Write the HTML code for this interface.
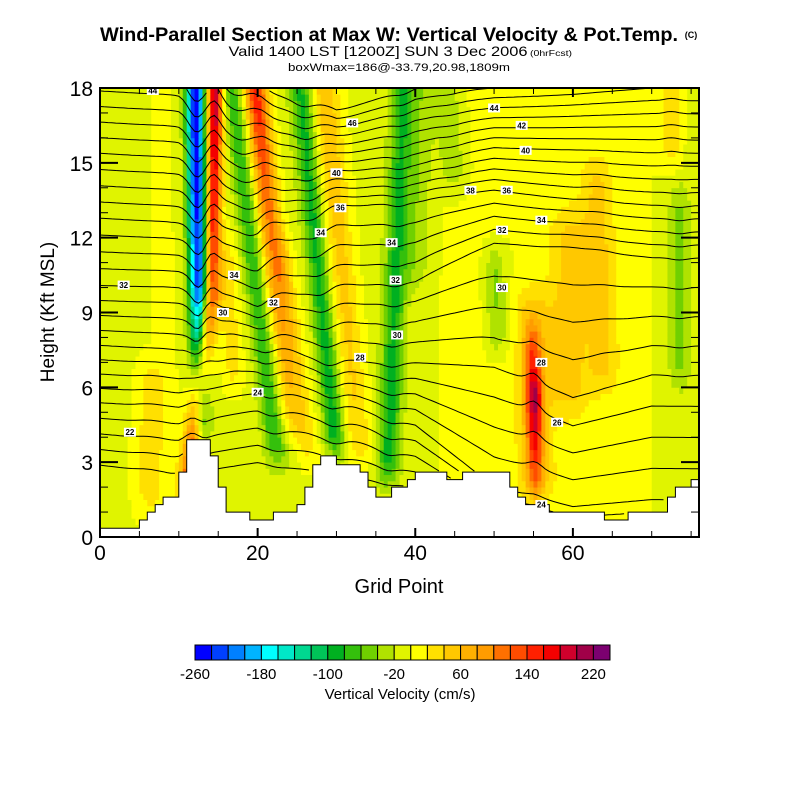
<!DOCTYPE html>
<html><head><meta charset="utf-8">
<style>
html,body{margin:0;padding:0;background:#fff;}
svg{display:block;font-family:"Liberation Sans",Arial,sans-serif;}
</style></head>
<body>
<svg id="chart" width="800" height="800" viewBox="0 0 800 800" xmlns="http://www.w3.org/2000/svg">
  <rect x="0" y="0" width="800" height="800" fill="#fff"/>
  <text x="389" y="41" text-anchor="middle" font-size="19" font-weight="bold" textLength="578" lengthAdjust="spacingAndGlyphs">Wind-Parallel Section at Max W: Vertical Velocity &amp; Pot.Temp.</text>
  <text x="691" y="38" text-anchor="middle" font-size="9" font-weight="bold">(C)</text>
  <text x="378" y="56" text-anchor="middle" font-size="14" textLength="299" lengthAdjust="spacingAndGlyphs">Valid 1400 LST [1200Z] SUN 3 Dec 2006</text>
  <text x="551" y="56" text-anchor="middle" font-size="8" textLength="42" lengthAdjust="spacingAndGlyphs">(0hrFcst)</text>
  <text x="399" y="71" text-anchor="middle" font-size="11" textLength="222" lengthAdjust="spacingAndGlyphs">boxWmax=186@-33.79,20.98,1809m</text>
  <g id="field"></g>
  <g id="contours"></g>
  <g id="terrain"></g>
  <g id="clabels"></g>
  <g id="axes"></g>
  <text x="0" y="0" transform="translate(54,312) rotate(-90)" text-anchor="middle" font-size="19">Height (Kft MSL)</text>
  <text x="399" y="593" text-anchor="middle" font-size="20">Grid Point</text>
  <g id="colorbar"></g>
  <text x="400" y="699" text-anchor="middle" font-size="15">Vertical Velocity (cm/s)</text>
</svg>
<script>
// ---------- data ----------
const xTicks = [0, 20, 40, 60];
const yTicks = [0, 3, 6, 9, 12, 15, 18];
const cbarLabels = [-260, -180, -100, -20, 60, 140, 220];
const cbarColors = ["#0000ff","#0040ff","#0080ff","#00b4ff","#00ffff","#00e8c8","#00d890","#00c458","#00b020","#34c00c","#70d000","#b0e200","#e0f400","#ffff00","#ffe000","#ffc800","#ffb000","#ff9c00","#ff7000","#ff4c00","#ff2000","#f40000","#d0002c","#a00048","#7c0070"];
// terrain height (kft) per grid segment [i, i+1]
const terrain = [0.35,0.35,0.35,0.35,0.35,0.68,1.0,1.3,1.6,1.6,2.6,3.9,3.9,3.9,3.25,2.0,1.0,1.0,1.0,0.68,0.68,0.68,1.0,1.0,1.0,1.3,2.0,2.9,3.25,3.25,2.9,2.9,2.9,2.6,2.0,1.6,1.6,2.0,2.0,2.3,2.6,2.6,2.6,2.6,2.3,2.3,2.6,2.6,2.6,2.6,2.6,2.6,2.0,1.6,1.3,1.3,1.3,1.0,1.0,1.0,1.0,1.0,1.0,1.0,0.68,0.68,0.68,1.0,1.0,1.0,1.0,1.0,1.6,2.0,2.0,2.3];
// background vertical velocity at grid x = 0,4,8,...,76
const bgW = [-8,-6,4,-8,-4,-6,-10,-2,-6,-10,-6,2,6,2,2,8,6,2,-2,-6];
// vertical velocity features (bands): bottom/top x, bottom/top height, half-width, amplitude bottom/top
const featX0 = [12.8,12.5,10.8,14.2,24.5,22.5,30.0,33.0,36.5,55.3,55.1,55.2,59.5,64.0,50.5,73.5,45.0,72.5,17.0,6.0,26.5,40.0];
const featX1 = [12.5,12.1,14.2,14.6,19.7,16.8,25.5,28.5,38.5,55.1,54.8,55.0,59.5,63.0,50.0,73.5,44.0,72.5,16.0,6.5,23.0,41.0];
const featY0 = [3.8,10.0,1.5,10.0,4.0,3.0,3.3,3.0,2.3,1.5,5.5,1.5,5.0,6.0,7.5,6.0,14.0,15.0,6.0,1.0,3.0,10.0];
const featY1 = [10.0,18.0,10.0,18.0,18.0,18.0,18.0,18.0,18.0,5.5,9.0,10.0,13.0,15.0,11.5,14.0,18.0,18.0,12.0,7.0,12.0,18.0];
const featHW = [1.2,1.2,1.2,1.0,1.5,1.4,1.4,1.8,1.4,1.1,1.1,2.6,2.6,2.0,1.4,1.4,1.8,1.2,1.2,2.0,1.4,1.6];
const featA0 = [-80,-230,120,150,40,-70,-90,45,-80,60,170,40,40,40,-45,-40,-35,40,35,30,35,-30];
const featA1 = [-230,-250,150,210,160,-70,-80,60,-75,170,40,40,40,40,-45,-40,-35,40,35,30,35,-30];
// potential temperature: heights (kft) of anchor levels at anchor grid columns
const thetaLevels = [20,24,28,32,36,40,44,48];
const thetaCols = [0,10,20,30,40,50,60,70,76];
const thetaH0  = [2.9,5.4,7.7,10.1,12.8,15.4,17.9,20.5];
const thetaH10 = [2.5,5.2,7.5,10.0,12.6,15.2,17.7,20.3];
const thetaH20 = [3.0,5.8,7.6,9.4,12.2,14.2,16.3,18.5];
const thetaH30 = [2.5,5.3,7.0,10.0,13.2,14.6,16.0,17.4];
const thetaH40 = [2.0,4.5,7.0,10.3,13.5,15.0,16.8,18.5];
const thetaH50 = [0.5,2.0,6.8,11.8,13.9,15.6,17.2,18.8];
const thetaH60 = [-0.5,1.2,5.5,11.5,13.5,15.5,17.3,19.0];
const thetaH70 = [-0.5,1.5,6.5,11.2,13.3,15.4,17.5,19.5];
const thetaH76 = [-0.5,1.5,6.5,11.2,13.3,15.4,17.5,19.5];
const contourLevels = [20,21,22,23,24,25,26,27,28,29,30,31,32,33,34,35,36,37,38,39,40,41,42,43,44,45,46,47];
const labelText = ["44","22","32","24","34","30","32","34","36","40","46","30","28","34","32","44","42","40","38","36","34","32","30","28","26","24"];
const labelX = [6.7,3.8,3.0,20.0,17.0,15.6,22.0,28.0,30.5,30.0,32.0,37.7,33.0,37.0,37.5,50.0,53.5,54.0,47.0,51.6,56.0,51.0,51.0,56.0,58.0,56.0];
const labelY = [17.9,4.2,10.1,5.8,10.5,9.0,9.4,12.2,13.2,14.6,16.6,8.1,7.2,11.8,10.3,17.2,16.5,15.5,13.9,13.9,12.7,12.3,10.0,7.0,4.6,1.3];

// ---------- axis functions ----------
const X0 = 100, X1 = 699, Y0 = 537, Y1 = 88, XMAX = 76, YMAX = 18;
function px(x){ return X0 + x * (X1 - X0) / XMAX; }
function py(h){ return Y0 - h * (Y0 - Y1) / YMAX; }
const NS = "http://www.w3.org/2000/svg";
function mk(tag, attrs, parent){
  const e = document.createElementNS(NS, tag);
  for (const k in attrs) e.setAttribute(k, attrs[k]);
  parent.appendChild(e);
  return e;
}
function colorOf(v){
  let i = Math.floor((v + 260) / 20);
  if (i < 0) i = 0; if (i > 24) i = 24;
  return cbarColors[i];
}
function bgAt(x){
  const f = x / 4; let i = Math.floor(f); if (i >= bgW.length - 1) return bgW[bgW.length - 1];
  const t = f - i; return bgW[i] * (1 - t) + bgW[i + 1] * t;
}
function wAt(x, y){
  let v = bgAt(x);
  for (let k = 0; k < featX0.length; k++){
    const y0 = featY0[k], y1 = featY1[k];
    if (y < y0 - 0.8 || y > y1 + 0.8) continue;
    let t = (y - y0) / (y1 - y0); t = Math.max(0, Math.min(1, t));
    const cx = featX0[k] + (featX1[k] - featX0[k]) * t;
    const a = featA0[k] + (featA1[k] - featA0[k]) * t;
    let fade = Math.min(1, (y - y0 + 0.8) / 1.6, (y1 + 0.8 - y) / 1.6);
    if (y1 >= 18) fade = Math.min(1, (y - y0 + 0.8) / 1.6);
    if (fade <= 0) continue;
    const d = (x - cx) / featHW[k];
    v += a * fade * Math.exp(-d * d);
  }
  return v;
}
function terrainAt(x){
  let i = Math.floor(x); if (i < 0) i = 0; if (i > terrain.length - 1) i = terrain.length - 1;
  return terrain[i];
}

// ---------- field ----------
const field = document.getElementById('field');
const DX = 0.5, DY = 0.25;
for (let y = 0; y < YMAX; y += DY){
  let runStart = 0, runColor = null;
  const nx = Math.round(XMAX / DX);
  for (let i = 0; i <= nx; i++){
    const x = i * DX;
    const c = i < nx ? colorOf(wAt(x + DX / 2, y + DY / 2)) : null;
    if (c !== runColor){
      if (runColor !== null){
        const r = mk('rect', {x: px(runStart).toFixed(2), y: py(y + DY).toFixed(2), width: (px(x) - px(runStart) + 0.4).toFixed(2), height: (py(y) - py(y + DY) + 0.4).toFixed(2), fill: runColor}, field);
        
        
      }
      runStart = x; runColor = c;
    }
  }
}

// ---------- theta contours ----------
const thetaTable = [thetaH0, thetaH10, thetaH20, thetaH30, thetaH40, thetaH50, thetaH60, thetaH70, thetaH76];
function levelHeight(col, L){
  const hs = thetaTable[col];
  for (let i = 0; i < thetaLevels.length - 1; i++){
    if (L <= thetaLevels[i + 1]){
      const t = (L - thetaLevels[i]) / (thetaLevels[i + 1] - thetaLevels[i]);
      return hs[i] + (hs[i + 1] - hs[i]) * t;
    }
  }
  return hs[hs.length - 1];
}
function thetaHeight(L, x){
  let j = 0;
  while (j < thetaCols.length - 2 && x > thetaCols[j + 1]) j++;
  const t = (x - thetaCols[j]) / (thetaCols[j + 1] - thetaCols[j]);
  const h0 = levelHeight(j, L) * (1 - t) + levelHeight(j + 1, L) * t;
  return h0 + 0.0022 * wAt(x, h0);
}
const cg = document.getElementById('contours');
contourLevels.forEach(L => {
  let pts = [];
  const flush = () => {
    if (pts.length > 1){
      const p = mk('polyline', {points: pts.join(' '), fill: 'none', stroke: '#000', 'stroke-width': 1}, cg);
      
      
    }
    pts = [];
  };
  for (let x = 0; x <= XMAX + 0.001; x += 0.5){
    const h = thetaHeight(L, x);
    if (h < terrainAt(x) || h > YMAX){ flush(); continue; }
    pts.push(px(x).toFixed(1) + ',' + py(h).toFixed(1));
  }
  flush();
});

// ---------- terrain ----------
const tg = document.getElementById('terrain');
let tp = [px(0) + ',' + py(0)];
for (let i = 0; i < terrain.length; i++){
  tp.push(px(i).toFixed(1) + ',' + py(terrain[i]).toFixed(1));
  tp.push(px(i + 1).toFixed(1) + ',' + py(terrain[i]).toFixed(1));
}
tp.push(px(XMAX) + ',' + py(0));
const terr = mk('polygon', {points: tp.join(' '), fill: '#fff', stroke: '#000', 'stroke-width': 1}, tg);



// ---------- contour labels ----------
const lg = document.getElementById('clabels');
for (let i = 0; i < labelText.length; i++){
  const cx = px(labelX[i]), cy = py(labelY[i]);
  const r = mk('rect', {x: cx - 6, y: cy - 4.5, width: 12, height: 9, fill: '#fff'}, lg);
  
  
  const t = mk('text', {x: cx, y: cy + 3, 'text-anchor': 'middle', 'font-size': 8, 'font-weight': 'bold'}, lg);
  t.textContent = labelText[i];
  
  
}

// ---------- axes ----------
const ag = document.getElementById('axes');
const frame = mk('rect', {x: X0, y: Y1, width: X1 - X0, height: Y0 - Y1, fill: 'none', stroke: '#000', 'stroke-width': 2}, ag);


for (let x = 0; x <= XMAX; x += 5){
  const len = (x % 20 === 0) ? 9 : 6;
  const t1 = mk('line', {x1: px(x), x2: px(x), y1: Y0, y2: Y0 - len, stroke: '#000', 'stroke-width': (x % 20 === 0) ? 2 : 1}, ag);
  
  
  const t2 = mk('line', {x1: px(x), x2: px(x), y1: Y1, y2: Y1 + len, stroke: '#000', 'stroke-width': (x % 20 === 0) ? 2 : 1}, ag);
  
  
}
for (let h = 0; h <= YMAX; h += 1){
  const len = (h % 3 === 0) ? 18 : 8;
  const t1 = mk('line', {x1: X0, x2: X0 + len, y1: py(h), y2: py(h), stroke: '#000', 'stroke-width': (h % 3 === 0) ? 2 : 1}, ag);
  
  
  const t2 = mk('line', {x1: X1, x2: X1 - len, y1: py(h), y2: py(h), stroke: '#000', 'stroke-width': (h % 3 === 0) ? 2 : 1}, ag);
  
  
}
xTicks.forEach(v => {
  const t = mk('text', {x: px(v), y: 560, 'text-anchor': 'middle', 'font-size': 21}, ag);
  t.textContent = v;
  
  
});
yTicks.forEach(v => {
  const t = mk('text', {x: 93, y: py(v) + 8, 'text-anchor': 'end', 'font-size': 21}, ag);
  t.textContent = v;
  
  
});

// ---------- colorbar ----------
const cb = document.getElementById('colorbar');
const CB0 = 195, CB1 = 610, CBY = 645, CBH = 15;
const bw = (CB1 - CB0) / cbarColors.length;
cbarColors.forEach((c, i) => {
  const r = mk('rect', {x: CB0 + i * bw, y: CBY, width: bw, height: CBH, fill: c, stroke: '#000', 'stroke-width': 1}, cb);
  
  
});
cbarLabels.forEach(v => {
  const i = (v + 260) / 20;
  const t = mk('text', {x: CB0 + i * bw, y: 679, 'text-anchor': 'middle', 'font-size': 15}, cb);
  t.textContent = v;
  
  
});
</script>
</body></html>
